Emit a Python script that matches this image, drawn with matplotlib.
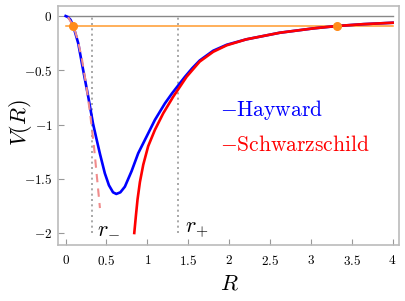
import numpy as np
import matplotlib
matplotlib.use("Agg")
import matplotlib.pyplot as plt

plt.rcParams['mathtext.fontset'] = 'cm'

# values
R_hay = [0.0, 0.03, 0.06, 0.093, 0.154, 0.215, 0.277, 0.335, 0.38, 0.42, 0.48, 0.53,
         0.58, 0.62, 0.67, 0.725, 0.807, 0.888, 0.99, 1.092, 1.215, 1.30, 1.377, 1.46,
         1.55, 1.64, 1.805, 1.97, 2.21, 2.62, 3.03, 3.32, 3.64, 4.0]
V_hay = [0.0, -0.01, -0.035, -0.09, -0.25, -0.50, -0.744, -0.99, -1.14, -1.27, -1.45, -1.56,
         -1.625, -1.64, -1.625, -1.573, -1.43, -1.265, -1.112, -0.958, -0.805, -0.715, -0.64, -0.56,
         -0.48, -0.41, -0.32, -0.265, -0.215, -0.154, -0.114, -0.092, -0.075, -0.062]

R_sch = [0.84, 0.86, 0.88, 0.909, 0.95, 1.01, 1.092, 1.194, 1.316, 1.40, 1.48, 1.64,
         1.805, 1.97, 2.21, 2.62, 3.03, 3.32, 3.64, 4.0]
V_sch = [-2.0, -1.84, -1.69, -1.53, -1.37, -1.20, -1.05, -0.897, -0.744, -0.65, -0.56, -0.42,
         -0.33, -0.27, -0.215, -0.154, -0.114, -0.092, -0.075, -0.062]

R_core = [0.03, 0.1, 0.15, 0.2, 0.25, 0.3, 0.35, 0.42]
V_core = [-0.01, -0.1, -0.225, -0.4, -0.625, -0.9, -1.225, -1.77]

r_minus = 0.318
r_plus = 1.374
E_level = -0.092
R_turn = [0.093, 3.32]

xticks = [0, 0.5, 1, 1.5, 2, 2.5, 3, 3.5, 4]
xtick_labels = ['0', '0.5', '1', '1.5', '2', '2.5', '3', '3.5', '4']
yticks = [0, -0.5, -1, -1.5, -2]
ytick_labels = ['0', '-0.5', '-1', '-1.5', '-2']

fig = plt.figure(figsize=(4.05, 3.01), dpi=100)
ax = fig.add_axes([0.143, 0.187, 0.842, 0.794])

ax.plot([0, 4], [0, 0], color='#888888', lw=1.0, zorder=1)
ax.plot([0, 4], [E_level, E_level], color='#ff9a2e', lw=1.1, zorder=2)
ax.vlines([r_minus, r_plus], -2.0, 0.0, colors='#999999', linestyles=(0, (1.2, 2.0)), lw=1.2, zorder=1)

ax.plot(R_hay, V_hay, color='#0000ff', lw=1.9, zorder=3, solid_joinstyle='round')
ax.plot(R_sch, V_sch, color='#ff0000', lw=1.9, zorder=4, solid_joinstyle='round')
ax.plot(R_core, V_core, color='#f08c8c', lw=1.5, ls=(0, (4, 3)), zorder=5)
ax.plot(R_turn, [E_level, E_level], 'o', color='#ff8c1a', ms=5.5, zorder=6)

ax.text(0.38, -2.0, r'$r_{-}$', fontsize=16, ha='left', va='baseline')
ax.text(1.46, -2.0, r'$r_{+}$', fontsize=16, ha='left', va='baseline')

ax.text(1.89, -0.87, r'$-\mathrm{Hayward}$', fontsize=15.5, color='#0000ff', ha='left', va='center')
ax.text(1.89, -1.19, r'$-\mathrm{Schwarzschild}$', fontsize=15.5, color='#ff0000', ha='left', va='center')

ax.set_xlim(-0.094, 4.077)
ax.set_ylim(-2.108, 0.095)

ax.set_xticks(xticks)
ax.set_xticklabels(['$%s$' % s for s in xtick_labels])
ax.set_yticks(yticks)
ax.set_yticklabels(['$%s$' % s for s in ytick_labels])
ax.tick_params(direction='in', length=4, width=0.8, color='#999999', labelsize=9.5)
ax.tick_params(axis='x', pad=7)
ax.tick_params(axis='y', pad=4)
ax.tick_params(top=False, right=False)

for sp in ax.spines.values():
    sp.set_color('#bbbbbb')
    sp.set_linewidth(1.2)

fig.text(229 / 405, 1 - 283 / 301, r'$R$', fontsize=16, ha='center', va='center')
fig.text(20 / 405, 1 - 123 / 301, r'$V(R)$', fontsize=16, ha='center', va='center', rotation=90)

fig.savefig('out.png', dpi=100)
